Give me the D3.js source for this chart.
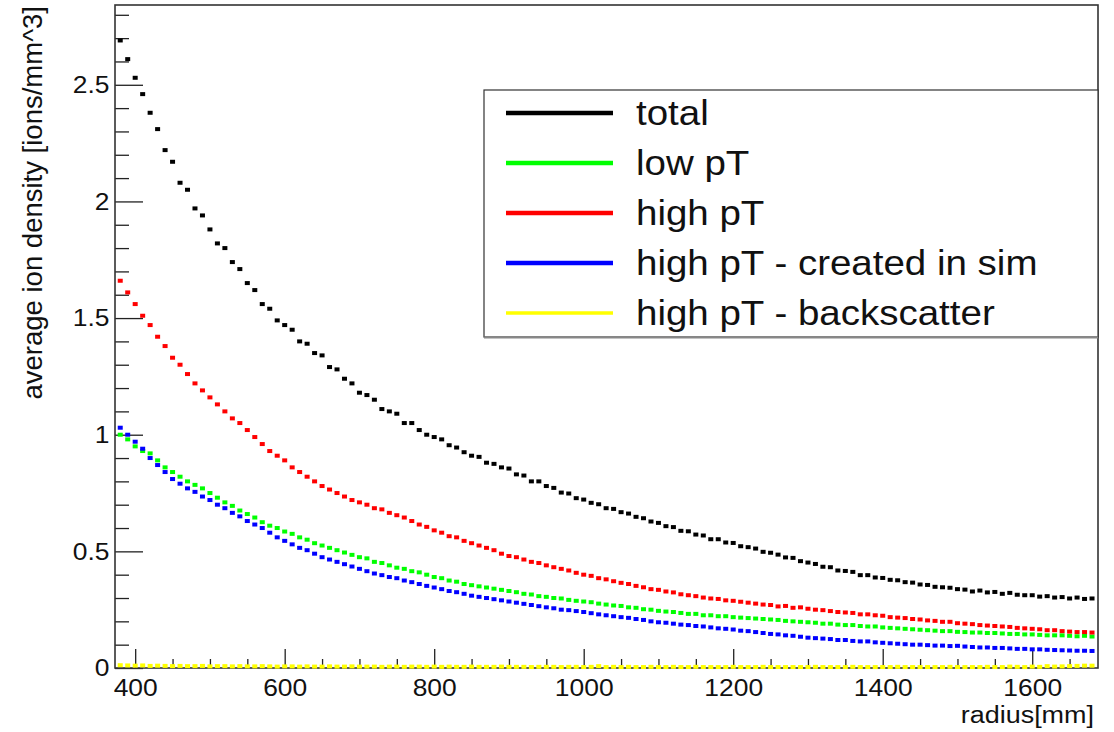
<!DOCTYPE html>
<html>
<head>
<meta charset="utf-8">
<script src="https://cdn.jsdelivr.net/npm/d3@7"></script>
<style>
  body { margin: 0; background: #fff; }
  text { font-family: "Liberation Sans", Arial, sans-serif; fill: #111; }
</style>
</head>
<body>
<svg width="1114" height="732"></svg>
<script>
// histogram binning (radius in mm), 10 mm bins starting at 375
const radiusLo = 375;
const binWidth = 10;

// average ion density per bin [ions/mm^3]
const total = [
  2.69, 2.61, 2.53, 2.46, 2.38, 2.31, 2.22, 2.17, 2.08, 2.05,
  1.97, 1.94, 1.88, 1.82, 1.80, 1.74, 1.71, 1.65, 1.62, 1.56,
  1.54, 1.49, 1.47, 1.45, 1.40, 1.39, 1.35, 1.34, 1.29, 1.28,
  1.24, 1.22, 1.18, 1.17, 1.15, 1.11, 1.10, 1.09, 1.05, 1.05,
  1.02, 1.00, 0.99, 0.98, 0.955, 0.945, 0.925, 0.91, 0.905, 0.88,
  0.875, 0.86, 0.855, 0.83, 0.825, 0.80, 0.80, 0.78, 0.772, 0.752,
  0.748, 0.728, 0.722, 0.708, 0.702, 0.685, 0.682, 0.668, 0.662, 0.648,
  0.642, 0.628, 0.622, 0.608, 0.604, 0.588, 0.586, 0.572, 0.568, 0.552,
  0.552, 0.538, 0.536, 0.522, 0.518, 0.512, 0.498, 0.494, 0.486, 0.474,
  0.472, 0.458, 0.452, 0.446, 0.434, 0.432, 0.418, 0.416, 0.412, 0.398,
  0.398, 0.388, 0.386, 0.378, 0.376, 0.368, 0.366, 0.358, 0.356, 0.348,
  0.346, 0.344, 0.338, 0.336, 0.328, 0.332, 0.324, 0.326, 0.318, 0.322,
  0.314, 0.312, 0.312, 0.306, 0.308, 0.302, 0.304, 0.298, 0.302, 0.296,
  0.298
];
const lowPt = [
  1.00, 0.98, 0.95, 0.93, 0.92, 0.89, 0.86, 0.84, 0.82, 0.80,
  0.785, 0.77, 0.75, 0.73, 0.71, 0.695, 0.675, 0.66, 0.645, 0.625,
  0.61, 0.60, 0.585, 0.575, 0.56, 0.55, 0.535, 0.525, 0.515, 0.505,
  0.495, 0.485, 0.475, 0.47, 0.455, 0.45, 0.44, 0.43, 0.425, 0.415,
  0.41, 0.40, 0.39, 0.385, 0.375, 0.37, 0.36, 0.355, 0.35, 0.345,
  0.34, 0.335, 0.33, 0.325, 0.318, 0.315, 0.308, 0.305, 0.30, 0.298,
  0.292, 0.288, 0.285, 0.282, 0.276, 0.272, 0.268, 0.266, 0.26, 0.258,
  0.252, 0.25, 0.245, 0.242, 0.24, 0.236, 0.232, 0.232, 0.226, 0.226,
  0.222, 0.222, 0.218, 0.216, 0.214, 0.212, 0.21, 0.208, 0.206, 0.202,
  0.20, 0.198, 0.196, 0.194, 0.19, 0.19, 0.186, 0.184, 0.184, 0.18,
  0.178, 0.178, 0.174, 0.172, 0.17, 0.168, 0.166, 0.164, 0.162, 0.16,
  0.158, 0.158, 0.155, 0.154, 0.152, 0.152, 0.15, 0.15, 0.148, 0.146,
  0.146, 0.144, 0.144, 0.142, 0.14, 0.14, 0.14, 0.138, 0.136, 0.138,
  0.135
];
const highPt = [
  1.66, 1.61, 1.56, 1.51, 1.47, 1.42, 1.38, 1.33, 1.30, 1.26,
  1.22, 1.19, 1.16, 1.13, 1.10, 1.07, 1.05, 1.02, 0.99, 0.96,
  0.93, 0.91, 0.89, 0.86, 0.84, 0.82, 0.80, 0.78, 0.765, 0.75,
  0.735, 0.72, 0.71, 0.70, 0.685, 0.68, 0.665, 0.655, 0.645, 0.63,
  0.615, 0.605, 0.59, 0.58, 0.565, 0.56, 0.545, 0.535, 0.525, 0.515,
  0.505, 0.49, 0.48, 0.475, 0.465, 0.455, 0.45, 0.44, 0.432, 0.425,
  0.418, 0.408, 0.40, 0.395, 0.385, 0.38, 0.372, 0.365, 0.36, 0.352,
  0.346, 0.338, 0.335, 0.328, 0.324, 0.316, 0.312, 0.308, 0.302, 0.298,
  0.296, 0.29, 0.288, 0.284, 0.28, 0.276, 0.272, 0.27, 0.264, 0.266,
  0.258, 0.26, 0.254, 0.25, 0.248, 0.244, 0.24, 0.238, 0.236, 0.23,
  0.23, 0.226, 0.224, 0.218, 0.216, 0.214, 0.21, 0.208, 0.204, 0.202,
  0.198, 0.198, 0.192, 0.19, 0.188, 0.184, 0.182, 0.18, 0.178, 0.176,
  0.172, 0.17, 0.168, 0.166, 0.162, 0.162, 0.158, 0.156, 0.154, 0.154,
  0.152
];
const createdInSim = [
  1.03, 1.00, 0.97, 0.94, 0.90, 0.87, 0.84, 0.81, 0.79, 0.77,
  0.755, 0.735, 0.72, 0.70, 0.685, 0.665, 0.65, 0.63, 0.615, 0.60,
  0.58, 0.56, 0.545, 0.53, 0.515, 0.505, 0.49, 0.475, 0.465, 0.455,
  0.445, 0.435, 0.425, 0.415, 0.405, 0.398, 0.39, 0.385, 0.375, 0.368,
  0.36, 0.352, 0.345, 0.338, 0.33, 0.325, 0.318, 0.31, 0.305, 0.30,
  0.295, 0.29, 0.285, 0.28, 0.275, 0.27, 0.265, 0.26, 0.256, 0.25,
  0.248, 0.244, 0.24, 0.235, 0.23, 0.226, 0.222, 0.218, 0.215, 0.21,
  0.206, 0.20, 0.196, 0.194, 0.19, 0.186, 0.184, 0.18, 0.178, 0.174,
  0.17, 0.168, 0.165, 0.16, 0.158, 0.154, 0.15, 0.146, 0.144, 0.14,
  0.138, 0.134, 0.13, 0.128, 0.126, 0.124, 0.12, 0.12, 0.116, 0.114,
  0.114, 0.11, 0.108, 0.106, 0.104, 0.102, 0.10, 0.10, 0.098, 0.096,
  0.096, 0.094, 0.095, 0.092, 0.09, 0.088, 0.088, 0.086, 0.086, 0.084,
  0.082, 0.082, 0.08, 0.08, 0.078, 0.077, 0.076, 0.075, 0.074, 0.074,
  0.073
];
const backscatter = [
  0.012, 0.011, 0.010, 0.011, 0.009, 0.010, 0.009, 0.008, 0.009, 0.008,
  0.008, 0.009, 0.007, 0.008, 0.008, 0.007, 0.008, 0.007, 0.007, 0.008,
  0.007, 0.006, 0.007, 0.007, 0.006, 0.007, 0.006, 0.006, 0.007, 0.006,
  0.006, 0.007, 0.006, 0.006, 0.006, 0.005, 0.006, 0.006, 0.005, 0.006,
  0.006, 0.005, 0.006, 0.005, 0.006, 0.005, 0.005, 0.006, 0.005, 0.005,
  0.005, 0.006, 0.005, 0.005, 0.005, 0.004, 0.005, 0.005, 0.005, 0.004,
  0.005, 0.005, 0.004, 0.005, 0.008, 0.004, 0.005, 0.004, 0.005, 0.004,
  0.004, 0.005, 0.004, 0.004, 0.005, 0.004, 0.004, 0.005, 0.004, 0.004,
  0.004, 0.004, 0.005, 0.004, 0.004, 0.004, 0.005, 0.004, 0.004, 0.004,
  0.004, 0.004, 0.004, 0.005, 0.004, 0.004, 0.004, 0.004, 0.005, 0.004,
  0.004, 0.004, 0.004, 0.004, 0.005, 0.004, 0.004, 0.004, 0.004, 0.004,
  0.004, 0.005, 0.004, 0.004, 0.004, 0.004, 0.005, 0.004, 0.004, 0.006,
  0.005, 0.004, 0.006, 0.005, 0.008, 0.006, 0.007, 0.008, 0.009, 0.010,
  0.010
];

const seriesNames = ['total', 'low pT', 'high pT', 'high pT - created in sim', 'high pT - backscatter'];
const seriesValues = [total, lowPt, highPt, createdInSim, backscatter];
const seriesColors = ['#000000', '#00ff00', '#ff0000', '#0000ff', '#ffff00'];

const xMajorTicks = [400, 600, 800, 1000, 1200, 1400, 1600];
const yMajorTicks = [0, 0.5, 1, 1.5, 2, 2.5];

const svg = d3.select('svg');
const frame = { left: 115, right: 1098, top: 5, bottom: 668 };

svg.append('rect').attr('width', 1114).attr('height', 732).attr('fill', '#fff');

const xScale = d3.scaleLinear().domain([373, 1688]).range([frame.left, frame.right]);
const yScale = d3.scaleLinear().domain([0, 2.842]).range([frame.bottom, frame.top]);

// the picture is slightly stretched sideways, so text is too
const stretch = 'scale(1.1,1)';

// x axis: ticks point up into the frame
const xMinor = d3.range(400, 1688, 50).filter(v => v % 200 !== 0);
svg.append('g')
    .attr('transform', `translate(0,${frame.bottom})`)
    .call(d3.axisBottom(xScale).tickValues(xMinor).tickSize(-9).tickFormat(''))
    .call(g => g.select('.domain').remove());
const xAxisGroup = svg.append('g')
    .attr('transform', `translate(0,${frame.bottom})`)
    .call(d3.axisBottom(xScale).tickValues(xMajorTicks).tickSize(-19).tickPadding(11).tickFormat(d3.format('d')));
xAxisGroup.select('.domain').remove();
xAxisGroup.selectAll('.tick text').attr('font-size', 24).attr('transform', stretch);

// y axis: ticks point right into the frame
const yMinor = d3.range(0, 2.84, 0.1).filter(v => Math.abs(v * 2 - Math.round(v * 2)) > 1e-6);
svg.append('g')
    .attr('transform', `translate(${frame.left},0)`)
    .call(d3.axisLeft(yScale).tickValues(yMinor).tickSize(-14).tickFormat(''))
    .call(g => g.select('.domain').remove());
const yAxisGroup = svg.append('g')
    .attr('transform', `translate(${frame.left},0)`)
    .call(d3.axisLeft(yScale).tickValues(yMajorTicks).tickSize(-28).tickPadding(5).tickFormat(d3.format('')));
yAxisGroup.select('.domain').remove();
yAxisGroup.selectAll('.tick text').attr('font-size', 24).attr('transform', stretch);

svg.selectAll('.tick line').attr('stroke', '#222').attr('stroke-width', 1.3);

// frame
svg.append('rect')
    .attr('x', frame.left).attr('y', frame.top)
    .attr('width', frame.right - frame.left).attr('height', frame.bottom - frame.top)
    .attr('fill', 'none').attr('stroke', '#333').attr('stroke-width', 1.6);

// axis titles
svg.append('g')
    .attr('transform', `translate(1094,723) ${stretch}`)
    .append('text')
    .attr('text-anchor', 'end')
    .attr('font-size', 24.5)
    .text('radius[mm]');

svg.append('text')
    .attr('transform', `translate(42,6) rotate(-90)`)
    .attr('text-anchor', 'end')
    .attr('font-size', 27.5)
    .text('average ion density [ions/mm^3]');

// markers, one per bin
seriesValues.forEach((values, s) => {
    svg.append('g')
        .attr('fill', seriesColors[s])
        .selectAll('rect')
        .data(values)
        .enter()
        .append('rect')
        .attr('x', (d, i) => xScale(radiusLo + (i + 0.5) * binWidth) - 2.5)
        .attr('y', d => yScale(d) - 2)
        .attr('width', 5)
        .attr('height', 4);
});

// legend
const legend = svg.append('g');
legend.append('rect')
    .attr('x', 484).attr('y', 90).attr('width', 614).attr('height', 247)
    .attr('fill', '#fff').attr('stroke', '#333').attr('stroke-width', 1.2);
legend.append('line')
    .attr('x1', 484).attr('x2', 1098).attr('y1', 337.5).attr('y2', 337.5)
    .attr('stroke', '#888').attr('stroke-width', 2);

const rowY = d3.scalePoint().domain(seriesNames).range([113, 313]);
seriesNames.forEach((name, s) => {
    const y = rowY(name);
    legend.append('line')
        .attr('x1', 506).attr('x2', 613).attr('y1', y).attr('y2', y)
        .attr('stroke', seriesColors[s]).attr('stroke-width', s === 4 ? 3.5 : 4.5);
    legend.append('g')
        .attr('transform', `translate(636,${y + 12}) ${stretch}`)
        .append('text')
        .attr('font-size', 35)
        .text(name);
});
</script>
</body>
</html>
